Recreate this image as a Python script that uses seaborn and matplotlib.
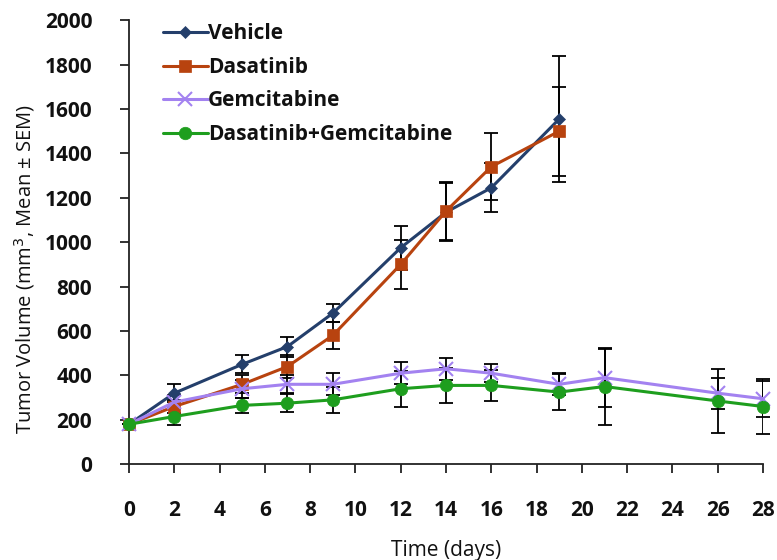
import matplotlib
matplotlib.use("Agg")
import matplotlib.pyplot as plt
import seaborn as sns
import pandas as pd
import numpy as np

sns.set_theme(style="ticks")
plt.rcParams['font.family'] = ['Open Sans', 'DejaVu Sans']

days_ab = [0, 2, 5, 7, 9, 12, 14, 16, 19]
days_all = [0, 2, 5, 7, 9, 12, 14, 16, 19, 21, 26, 28]

vehicle = [180, 320, 450, 530, 680, 975, 1135, 1245, 1555]
vehicle_err = [0, 40, 40, 45, 40, 100, 130, 110, 285]
dasatinib = [180, 260, 360, 440, 580, 900, 1140, 1340, 1500]
dasatinib_err = [0, 30, 40, 50, 60, 110, 130, 150, 200]
gemcitabine = [180, 280, 340, 360, 360, 410, 430, 410, 360, 390, 320, 295]
gemcitabine_err = [0, 30, 40, 40, 50, 50, 50, 40, 50, 130, 70, 80]
combo = [180, 215, 265, 275, 290, 340, 355, 355, 325, 350, 285, 260]
combo_err = [0, 40, 35, 40, 60, 80, 80, 70, 80, 175, 145, 125]

names = ["Vehicle", "Dasatinib", "Gemcitabine", "Dasatinib+Gemcitabine"]
series = [(days_ab, vehicle, vehicle_err), (days_ab, dasatinib, dasatinib_err),
          (days_all, gemcitabine, gemcitabine_err), (days_all, combo, combo_err)]
colors = ["#243F6B", "#B8430F", "#A382F0", "#1E9E1E"]
markers = ["D", "s", "x", "o"]
msizes = [6, 9, 10, 9]

rows = []
for n, (d, v, e) in zip(names, series):
    for xi, yi, ei in zip(d, v, e):
        rows.append({"Group": n, "Day": xi, "Volume": yi, "Err": ei})
df = pd.DataFrame(rows)

fig, ax = plt.subplots(figsize=(7.77, 5.6), dpi=100)
fig.subplots_adjust(left=0.166, right=0.982, top=0.964, bottom=0.171)

for n in names:
    sub = df[df.Group == n]
    ax.errorbar(sub.Day, sub.Volume, yerr=sub.Err, fmt='none', ecolor='black',
                elinewidth=1.3, capsize=5, capthick=1.3, zorder=2)
for n, c, m, ms in zip(names, colors, markers, msizes):
    sub = df[df.Group == n]
    sns.lineplot(data=sub, x="Day", y="Volume", ax=ax, color=c, marker=m,
                 markersize=ms, markeredgecolor=c, markeredgewidth=1.5 if m == 'x' else 0.5,
                 linewidth=2.2, label=n, zorder=3)

ax.set_xlim(0, 28)
ax.set_ylim(0, 2000)
ax.set_xticks(np.arange(0, 29, 2))
ax.set_yticks(np.arange(0, 2001, 200))
ax.tick_params(axis='both', labelsize=15, direction='out', length=6.5, width=1.3, color='#222222')
ax.tick_params(axis='x', pad=19)
ax.tick_params(axis='y', pad=20)
for lab in ax.get_xticklabels() + ax.get_yticklabels():
    lab.set_fontweight('bold')
    lab.set_color('#111111')
ax.spines['top'].set_visible(False)
ax.spines['right'].set_visible(False)
for s in ['left', 'bottom']:
    ax.spines[s].set_linewidth(1.3)
    ax.spines[s].set_color('#222222')
ax.set_xlabel("Time (days)", fontsize=15, color='#111111', labelpad=14)
ax.set_ylabel("Tumor Volume (mm$^3$, Mean ± SEM)", fontsize=14.5, color='#111111')
ax.yaxis.set_label_coords(-0.145, 0.44)
leg = ax.legend(loc='upper left', bbox_to_anchor=(0.024, 1.035), frameon=False, fontsize=15,
                handlelength=2.15, handletextpad=0.0, labelspacing=0.6)
for t in leg.get_texts():
    t.set_fontweight('bold')
    t.set_color('#111111')
for line in ax.get_lines():
    line.set_clip_on(False)

fig.savefig("out.png", dpi=100)
